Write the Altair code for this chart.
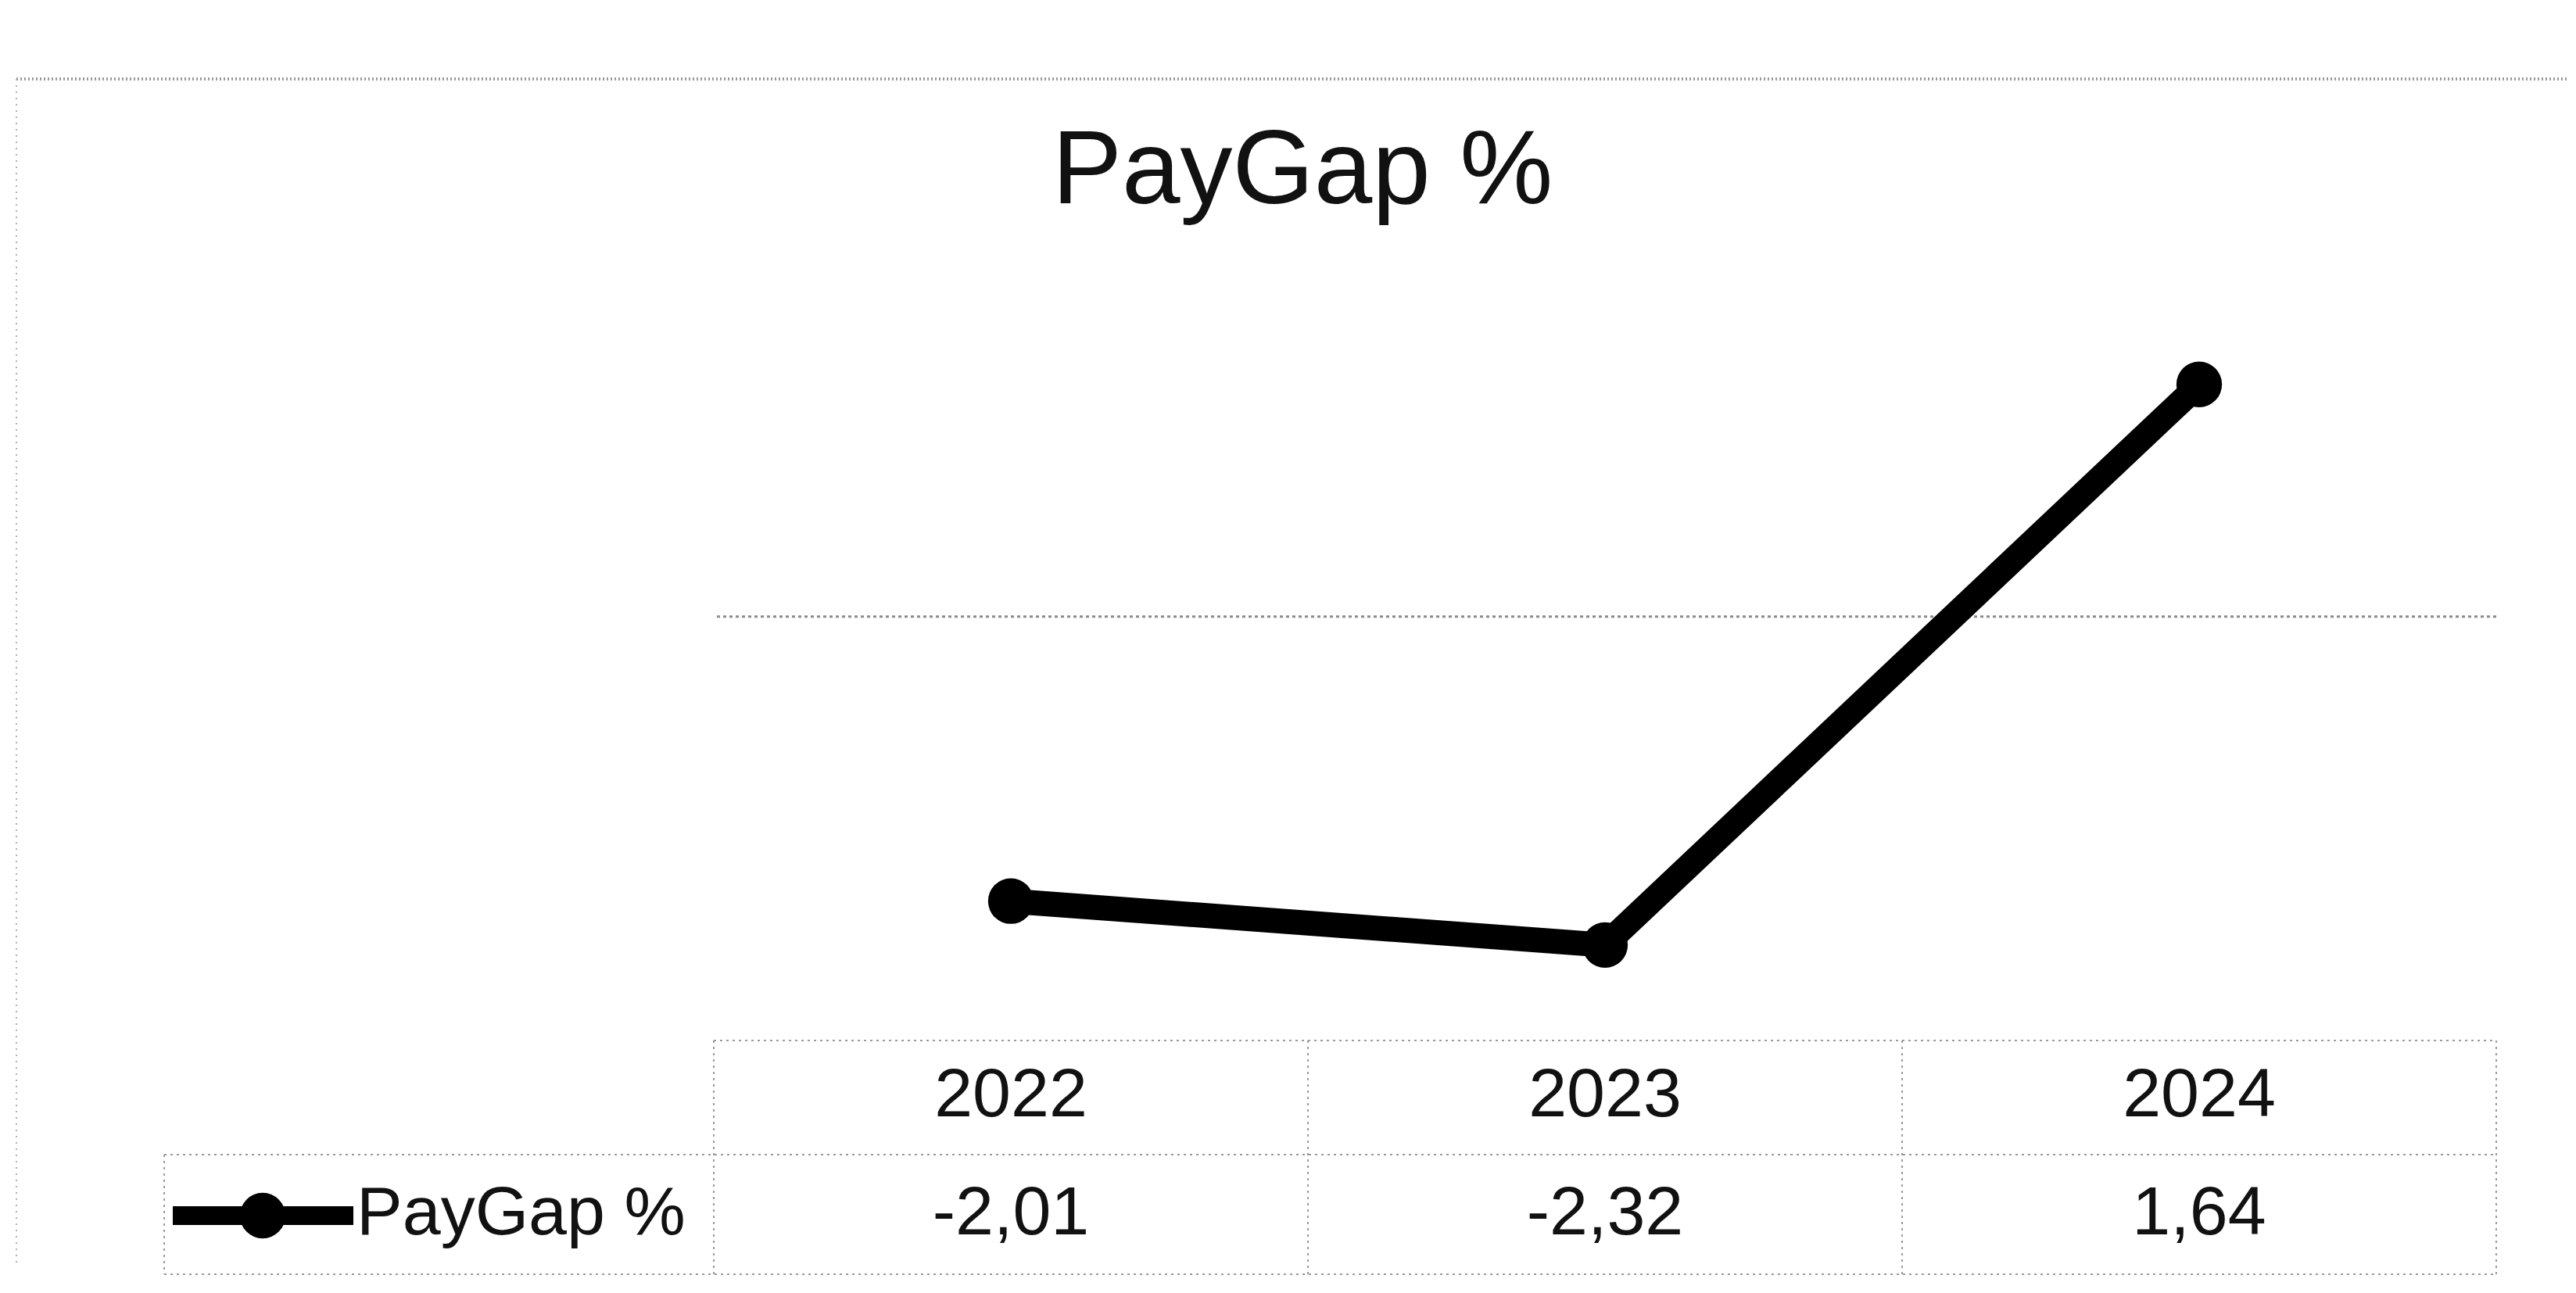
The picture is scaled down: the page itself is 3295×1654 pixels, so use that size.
import altair as alt
import pandas as pd

# ---- data ----
years = ["2022", "2023", "2024"]
values = [-2.01, -2.32, 1.64]
series_name = "PayGap %"
title_text = "PayGap %"
gridline_values = [0]

FONT = "Liberation Sans"
df = pd.DataFrame({
    "year": years,
    "value": values,
    "label": [f"{v:.2f}".replace(".", ",") for v in values],
})
one = pd.DataFrame({"name": [series_name]})
title_df = pd.DataFrame({"title": [title_text]})
grid_df = pd.DataFrame({"value": gridline_values})

W, H = 2280, 996

x = alt.X("year:O", scale=alt.Scale(type="point", padding=0.5), axis=None)
y = alt.Y("value:Q", scale=alt.Scale(domain=[-3, 2.5], nice=False, zero=False), axis=None)

base = alt.Chart(df)

grid = alt.Chart(grid_df).mark_rule(color="#8a8a8a", strokeWidth=3, strokeDash=[4, 4]).encode(y=y)
line = base.mark_line(color="#000000", strokeWidth=32).encode(x=x, y=y)
pts = base.mark_circle(color="#000000", size=3400, opacity=1).encode(x=x, y=y)

header = base.mark_text(fontSize=88, font=FONT, color="#111111", baseline="middle").encode(
    x=x, y=alt.value(1066), text="year:N")
vals = base.mark_text(fontSize=88, font=FONT, color="#111111", baseline="middle").encode(
    x=x, y=alt.value(1217), text="label:N")

title = alt.Chart(title_df).mark_text(fontSize=134, font=FONT, color="#111111", align="center",
                                      baseline="alphabetic").encode(
    x=alt.value(753), y=alt.value(-76), text="title:N")


def seg(x1, y1, x2, y2, color="#9a9a9a", width=2, dash=(3, 5)):
    return alt.Chart(one).mark_rule(color=color, strokeWidth=width, strokeDash=list(dash)).encode(
        x=alt.value(x1), x2=alt.value(x2), y=alt.value(y1), y2=alt.value(y2))


table_lines = [
    seg(0, 995, W, 995),
    seg(-703, 1141, W, 1141),
    seg(-703, 1294, W, 1294),
    seg(0, 995, 0, 1294),
    seg(760, 995, 760, 1294),
    seg(1520, 995, 1520, 1294),
    seg(W, 995, W, 1294),
    seg(-703, 1141, -703, 1294),
    # chart border (faint)
    seg(-892, -235, 2370, -235, color="#9a9a9a", width=4, dash=(2, 3)),
    seg(-892, -235, -892, 1285, color="#b0b0b0", width=2, dash=(2, 6)),
]

key_line = alt.Chart(one).mark_rule(color="#000000", strokeWidth=24).encode(
    x=alt.value(-692), x2=alt.value(-461), y=alt.value(1219), y2=alt.value(1219))
key_pt = alt.Chart(one).mark_circle(color="#000000", size=3400, opacity=1).encode(
    x=alt.value(-577), y=alt.value(1219))
key_text = alt.Chart(one).mark_text(fontSize=88, font=FONT, color="#111111", align="left",
                                    baseline="middle").encode(
    x=alt.value(-457), y=alt.value(1217), text="name:N")

chart = alt.layer(
    *table_lines, grid, line, pts, header, vals, key_line, key_pt, key_text, title
).properties(
    width=W,
    height=H,
    padding={"left": 905, "top": 328, "right": 90, "bottom": 300},
    autosize=alt.AutoSizeParams(type="none"),
).configure_view(stroke=None)

chart.save("out.html", embed_options={"renderer": "svg", "actions": False})
